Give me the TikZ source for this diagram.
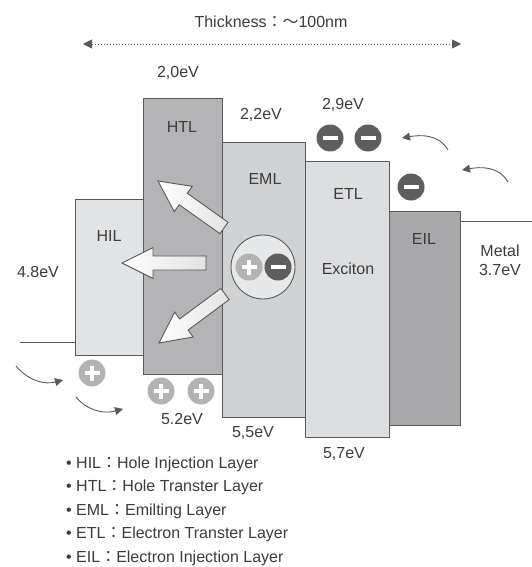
\documentclass[tikz,border=0pt]{standalone}
\usepackage{fontspec}
\setmainfont{Liberation Sans}
\newfontfamily\cjkfont{Noto Sans CJK KR}
\newcommand\cjk[1]{{\cjkfont #1}}
\usetikzlibrary{calc,arrows.meta}
\definecolor{txt}{HTML}{3C3C3C}
\definecolor{edge}{HTML}{5A5A5A}
\definecolor{cHIL}{HTML}{E2E3E5}
\definecolor{cHTL}{HTML}{B4B4B6}
\definecolor{cEML}{HTML}{D1D2D4}
\definecolor{cETL}{HTML}{DDDEE0}
\definecolor{cEIL}{HTML}{A8A8AA}
\definecolor{cMinus}{HTML}{5E5E5E}
\definecolor{cPlus}{HTML}{B3B3B3}
\tikzset{
  lbl/.style={text=txt,font=\fontsize{16}{19}\selectfont,inner sep=0pt},
  layer/.style={draw=edge,line width=0.9pt,anchor=north west,inner sep=0pt},
  minuscharge/.style={circle,fill=cMinus,minimum size=27pt,inner sep=0pt,
    path picture={\draw[white,line width=4.5pt] ([xshift=-7.5pt]path picture bounding box.center) -- ([xshift=7.5pt]path picture bounding box.center);}},
  pluscharge/.style={circle,fill=cPlus,minimum size=27pt,inner sep=0pt,
    path picture={\draw[white,line width=4.5pt] ([xshift=-7.5pt]path picture bounding box.center) -- ([xshift=7.5pt]path picture bounding box.center);
      \draw[white,line width=4.5pt] ([yshift=-7.5pt]path picture bounding box.center) -- ([yshift=7.5pt]path picture bounding box.center);}},
  curvarrow/.style={draw=edge,line width=0.9pt,-{Triangle[length=8pt,width=8pt]}},
  bigarr/.style={draw=edge,line width=0.9pt,left color=white,right color=gray!22},
  levelline/.style={draw=edge,line width=0.9pt}
}
\newcommand\bigarrowshape[2]{%
  \path (#1) coordinate (ta) (#2) coordinate (tp);
  \coordinate (hb) at ($(tp)!31pt!(ta)$);
  \draw[bigarr] ($(ta)!7pt!90:(tp)$) -- ($(hb)!7pt!-90:(ta)$) -- ($(hb)!15.5pt!-90:(ta)$) -- (tp)
     -- ($(hb)!15.5pt!90:(ta)$) -- ($(hb)!7pt!90:(ta)$) -- ($(ta)!7pt!-90:(tp)$) -- cycle;}
\begin{document}
\begin{tikzpicture}[x=1pt,y=-1pt]
\useasboundingbox[fill=white] (0,0) rectangle (532,567);
% title and thickness arrow
\node[lbl] (thick) at (271,22) {Thickness\cjk{：～}100nm};
\coordinate (dl) at (83,44);
\coordinate (dr) at (461,44);
\draw[draw=edge,line width=0.9pt,dash pattern=on 1.6pt off 1.4pt,{Triangle[length=9pt,width=9pt]}-{Triangle[length=9pt,width=9pt]}] (dl) -- (dr);
% layers
\node[layer,fill=cHIL,minimum width=68pt,minimum height=156pt] (hil) at (75,199) {};
\node[layer,fill=cHTL,minimum width=79pt,minimum height=276pt] (htl) at (143,98) {};
\node[layer,fill=cEML,minimum width=83pt,minimum height=275pt] (eml) at (222,142) {};
\node[layer,fill=cETL,minimum width=84pt,minimum height=276pt] (etl) at (305,161) {};
\node[layer,fill=cEIL,minimum width=71pt,minimum height=214pt] (eil) at (389,211) {};
% electrode levels
\coordinate (ll) at (20,342);
\coordinate (rl) at (532,221);
\draw[levelline] (ll) -- (ll -| hil.west);
\draw[levelline] (eil.east |- rl) -- (rl);
% layer labels
\node[lbl] (lhil) at (109,236) {HIL};
\node[lbl] (lhtl) at (182,127) {HTL};
\node[lbl] (leml) at (265,179) {EML};
\node[lbl] (letl) at (348,194) {ETL};
\node[lbl] (leil) at (424,239) {EIL};
\node[lbl] (lexc) at (348,269) {Exciton};
% energy labels
\node[lbl] (e20) at (178,73) {2,0eV};
\node[lbl] (e22) at (261,115) {2,2eV};
\node[lbl] (e29) at (343,105) {2,9eV};
\node[lbl] (e48) at (38,272) {4.8eV};
\node[lbl] (metal) at (500,251) {Metal};
\node[lbl] (e37) at (500,270) {3.7eV};
\node[lbl] (e52) at (182,419) {5.2eV};
\node[lbl] (e55) at (253,433) {5,5eV};
\node[lbl] (e57) at (344,454) {5,7eV};
% big arrows
\coordinate (a1t) at (224,228); \coordinate (a1h) at (158,181);
\coordinate (a2t) at (206,263); \coordinate (a2h) at (122,263);
\coordinate (a3t) at (225,294); \coordinate (a3h) at (159,343);
\bigarrowshape{a1t}{a1h}
\bigarrowshape{a2t}{a2h}
\bigarrowshape{a3t}{a3h}
% exciton
\node[circle,draw=edge,line width=0.9pt,fill=cETL!70!white,minimum size=64pt,inner sep=0pt] (exc) at (263,267) {};
\node[pluscharge] (ep) at (249,267) {};
\node[minuscharge] (em) at (278,267) {};
% charges
\node[minuscharge] (m1) at (330,138) {};
\node[minuscharge] (m2) at (368,138) {};
\node[minuscharge] (m3) at (411,187) {};
\node[pluscharge] (p1) at (92,373) {};
\node[pluscharge] (p2) at (161,391) {};
\node[pluscharge] (p3) at (201,391) {};
% curved arrows
\coordinate (c1s) at (448,150); \coordinate (c1e) at (402,138);
\coordinate (c2s) at (508,182); \coordinate (c2e) at (462,170);
\coordinate (c3s) at (16,366);  \coordinate (c3e) at (63,380);
\coordinate (c4s) at (76,397);  \coordinate (c4e) at (123,409);
\draw[curvarrow] (c1s) to[out=120,in=10] (c1e);
\draw[curvarrow] (c2s) to[out=120,in=10] (c2e);
\draw[curvarrow] (c3s) to[out=-50,in=195] (c3e);
\draw[curvarrow] (c4s) to[out=-50,in=195] (c4e);
% legend
\node[lbl,anchor=base west] (g1) at (66,468) {• HIL\cjk{：}Hole Injection Layer};
\node[lbl,anchor=base west] (g2) at (66,491.5) {• HTL\cjk{：}Hole Transter Layer};
\node[lbl,anchor=base west] (g3) at (66,515) {• EML\cjk{：}Emilting Layer};
\node[lbl,anchor=base west] (g4) at (66,538.5) {• ETL\cjk{：}Electron Transter Layer};
\node[lbl,anchor=base west] (g5) at (66,562) {• EIL\cjk{：}Electron Injection Layer};
\end{tikzpicture}
\end{document}
